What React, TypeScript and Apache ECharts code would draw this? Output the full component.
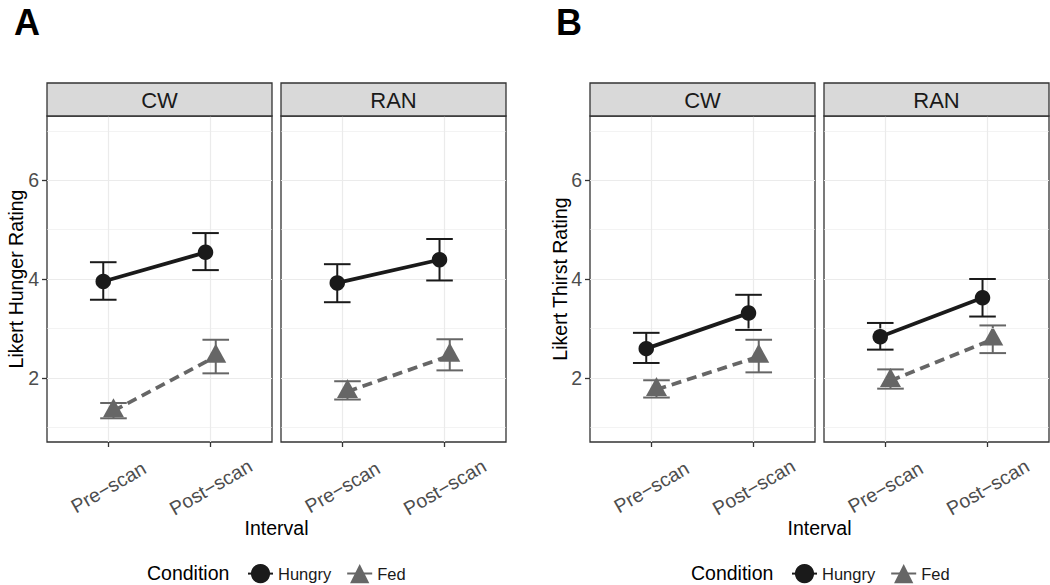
import React, { useEffect, useRef } from "react";
import * as echarts from "echarts";

// ---- data ----
const intervals = ["Pre\u2212scan", "Post\u2212scan"];
const conditions = ["Hungry", "Fed"];
const facets = ["CW", "RAN"];

// Panel A: Likert Hunger Rating
const hungerCWHungryMean = [3.95, 4.54];
const hungerCWHungryLow = [3.58, 4.18];
const hungerCWHungryHigh = [4.34, 4.93];
const hungerCWFedMean = [1.33, 2.43];
const hungerCWFedLow = [1.18, 2.09];
const hungerCWFedHigh = [1.49, 2.77];
const hungerRANHungryMean = [3.92, 4.39];
const hungerRANHungryLow = [3.53, 3.97];
const hungerRANHungryHigh = [4.3, 4.81];
const hungerRANFedMean = [1.72, 2.45];
const hungerRANFedLow = [1.56, 2.15];
const hungerRANFedHigh = [1.93, 2.78];

// Panel B: Likert Thirst Rating
const thirstCWHungryMean = [2.59, 3.31];
const thirstCWHungryLow = [2.3, 2.97];
const thirstCWHungryHigh = [2.91, 3.68];
const thirstCWFedMean = [1.76, 2.43];
const thirstCWFedLow = [1.6, 2.11];
const thirstCWFedHigh = [1.95, 2.77];
const thirstRANHungryMean = [2.83, 3.62];
const thirstRANHungryLow = [2.57, 3.24];
const thirstRANHungryHigh = [3.11, 4.0];
const thirstRANFedMean = [1.94, 2.78];
const thirstRANFedLow = [1.78, 2.5];
const thirstRANFedHigh = [2.17, 3.06];

const yTicks = [2, 4, 6];
const yMinor = [1, 3, 5, 7];
const xTicks = [1, 2];

// ---- style / layout ----
const FONT = "'Liberation Sans', Arial, Helvetica, sans-serif";
const HUNGRY_COLOR = "#1a1a1a";
const FED_COLOR = "#666666";
const DODGE = 0.05;
const CAP = 0.26;
const PANEL_TOP = 116;
const PANEL_H = 326;
const PANEL_W = 225;
const STRIP_TOP = 83;
const STRIP_H = 33;
const panelLefts = [47, 281, 590, 824];

type Group = { mean: number[]; low: number[]; high: number[] };
const panelData: { hungry: Group; fed: Group }[] = [
  {
    hungry: { mean: hungerCWHungryMean, low: hungerCWHungryLow, high: hungerCWHungryHigh },
    fed: { mean: hungerCWFedMean, low: hungerCWFedLow, high: hungerCWFedHigh },
  },
  {
    hungry: { mean: hungerRANHungryMean, low: hungerRANHungryLow, high: hungerRANHungryHigh },
    fed: { mean: hungerRANFedMean, low: hungerRANFedLow, high: hungerRANFedHigh },
  },
  {
    hungry: { mean: thirstCWHungryMean, low: thirstCWHungryLow, high: thirstCWHungryHigh },
    fed: { mean: thirstCWFedMean, low: thirstCWFedLow, high: thirstCWFedHigh },
  },
  {
    hungry: { mean: thirstRANHungryMean, low: thirstRANHungryLow, high: thirstRANHungryHigh },
    fed: { mean: thirstRANFedMean, low: thirstRANFedLow, high: thirstRANFedHigh },
  },
];

function errorBarSeries(idx: number, name: string, g: Group, offset: number, color: string) {
  return {
    type: "custom",
    name,
    xAxisIndex: idx,
    yAxisIndex: idx,
    z: 3,
    silent: true,
    encode: { x: 0, y: [1, 2] },
    data: g.mean.map((_, i) => [xTicks[i] + offset, g.low[i], g.high[i]]),
    renderItem: (params: any, api: any) => {
      const x = api.value(0);
      const lo = api.coord([x, api.value(1)]);
      const hi = api.coord([x, api.value(2)]);
      const half = api.size([CAP, 0])[0] / 2;
      const style = { stroke: color, lineWidth: 2, fill: null };
      return {
        type: "group",
        children: [
          { type: "line", shape: { x1: lo[0], y1: lo[1], x2: hi[0], y2: hi[1] }, style },
          { type: "line", shape: { x1: hi[0] - half, y1: hi[1], x2: hi[0] + half, y2: hi[1] }, style },
          { type: "line", shape: { x1: lo[0] - half, y1: lo[1], x2: lo[0] + half, y2: lo[1] }, style },
        ],
      };
    },
  };
}

function buildOption() {
  const grid: any[] = [];
  const xAxis: any[] = [];
  const yAxis: any[] = [];
  const series: any[] = [];
  const graphic: any[] = [];

  panelLefts.forEach((left, idx) => {
    const isLeft = idx % 2 === 0;
    grid.push({
      left,
      top: PANEL_TOP,
      width: PANEL_W,
      height: PANEL_H,
      containLabel: false,
      outerBoundsMode: "none",
      show: true,
      backgroundColor: "#ffffff",
      borderColor: "#333333",
      borderWidth: 1.3,
    });
    xAxis.push({
      type: "value",
      gridIndex: idx,
      min: 0.4,
      max: 2.6,
      axisLine: { show: false },
      axisTick: { show: true, length: 5, customValues: xTicks, lineStyle: { color: "#333333", width: 1.3 } },
      axisLabel: {
        show: true,
        customValues: xTicks,
        rotate: 30,
        align: "center",
        verticalAlign: "middle",
        margin: 45,
        fontSize: 19.5,
        color: "#4d4d4d",
        fontFamily: FONT,
        formatter: (v: number) => intervals[Math.round(v) - 1] || "",
      },
      splitLine: { show: true, lineStyle: { color: "#ebebeb", width: 1.2 } },
    });
    yAxis.push({
      type: "value",
      gridIndex: idx,
      min: 0.7,
      max: 7.3,
      axisLine: { show: false },
      axisTick: { show: isLeft, length: 5, customValues: yTicks, lineStyle: { color: "#333333", width: 1.3 } },
      axisLabel: {
        show: isLeft,
        customValues: yTicks,
        margin: 8,
        fontSize: 19.5,
        color: "#4d4d4d",
        fontFamily: FONT,
      },
      splitLine: { show: true, lineStyle: { color: "#ebebeb", width: 1.2 } },
    });

    // minor horizontal gridlines
    series.push({
      type: "line",
      name: "minor",
      xAxisIndex: idx,
      yAxisIndex: idx,
      data: [],
      z: 1,
      silent: true,
      markLine: {
        silent: true,
        symbol: ["none", "none"],
        label: { show: false },
        lineStyle: { color: "#ebebeb", width: 0.6, type: "solid" },
        data: yMinor.map((v) => ({ yAxis: v })),
        animation: false,
      },
    });

    const d = panelData[idx];
    series.push(errorBarSeries(idx, "Hungry error", d.hungry, -DODGE, HUNGRY_COLOR));
    series.push(errorBarSeries(idx, "Fed error", d.fed, DODGE, FED_COLOR));
    series.push({
      type: "line",
      name: "Hungry",
      xAxisIndex: idx,
      yAxisIndex: idx,
      z: 5,
      data: d.hungry.mean.map((m, i) => [xTicks[i] - DODGE, m]),
      symbol: "circle",
      symbolSize: 15.5,
      itemStyle: { color: HUNGRY_COLOR },
      lineStyle: { color: HUNGRY_COLOR, width: 3.8 },
    });
    series.push({
      type: "line",
      name: "Fed",
      xAxisIndex: idx,
      yAxisIndex: idx,
      z: 4,
      data: d.fed.mean.map((m, i) => [xTicks[i] + DODGE, m]),
      symbol: "triangle",
      symbolSize: [21, 19],
      symbolOffset: [0, -3.2],
      itemStyle: { color: FED_COLOR },
      lineStyle: { color: FED_COLOR, width: 3.8, type: [10, 6] },
    });

    // strip
    graphic.push({
      type: "rect",
      shape: { x: left, y: STRIP_TOP, width: PANEL_W, height: STRIP_H },
      style: { fill: "#d9d9d9", stroke: "#333333", lineWidth: 1.3 },
      z: 10,
    });
    graphic.push({
      type: "text",
      x: left + PANEL_W / 2,
      y: STRIP_TOP + STRIP_H / 2 + 1,
      style: {
        text: facets[idx % 2],
        fill: "#1a1a1a",
        fontSize: 22,
        fontFamily: FONT,
        align: "center",
        verticalAlign: "middle",
      },
      z: 11,
    });
  });

  const panels = [
    { letter: "A", letterX: 14, ytitle: "Likert Hunger Rating", ytitleX: 16, left: panelLefts[0], right: panelLefts[1] + PANEL_W, legendLeft: 242, condX: 147 },
    { letter: "B", letterX: 556, ytitle: "Likert Thirst Rating", ytitleX: 560, left: panelLefts[2], right: panelLefts[3] + PANEL_W, legendLeft: 786, condX: 691 },
  ];
  const legend: any[] = [];
  panels.forEach((p) => {
    graphic.push({
      type: "text",
      x: p.letterX,
      y: 22,
      style: { text: p.letter, fill: "#000", fontSize: 36, fontWeight: "bold", fontFamily: FONT, verticalAlign: "middle", align: "left" },
    });
    graphic.push({
      type: "text",
      x: p.ytitleX,
      y: PANEL_TOP + PANEL_H / 2,
      rotation: Math.PI / 2,
      style: { text: p.ytitle, fill: "#000", fontSize: 19.5, fontFamily: FONT, align: "center", verticalAlign: "middle" },
    });
    graphic.push({
      type: "text",
      x: (p.left + p.right) / 2,
      y: 528,
      style: { text: "Interval", fill: "#000", fontSize: 19.5, fontFamily: FONT, align: "center", verticalAlign: "middle" },
    });
    graphic.push({
      type: "text",
      x: p.condX,
      y: 573,
      style: { text: "Condition", fill: "#000", fontSize: 19.5, fontFamily: FONT, align: "left", verticalAlign: "middle" },
    });
    legend.push({
      left: p.legendLeft,
      top: 559,
      orient: "horizontal",
      data: conditions,
      itemWidth: 25,
      itemHeight: 24,
      itemGap: 15,
      selectedMode: false,
      textStyle: { fontSize: 16.5, color: "#1a1a1a", fontFamily: FONT },
    });
  });

  return {
    animation: false,
    backgroundColor: "#ffffff",
    textStyle: { fontFamily: FONT },
    grid,
    xAxis,
    yAxis,
    series,
    legend,
    graphic,
  };
}

export default function App() {
  const ref = useRef<HTMLDivElement>(null);
  useEffect(() => {
    if (!ref.current) return;
    const chart = echarts.init(ref.current, undefined, { renderer: "svg" });
    chart.setOption(buildOption() as any);
    return () => chart.dispose();
  }, []);
  return (
    <div
      ref={ref}
      style={{ position: "absolute", left: 0, top: 0, width: 1050, height: 585, background: "#fff" }}
    />
  );
}
